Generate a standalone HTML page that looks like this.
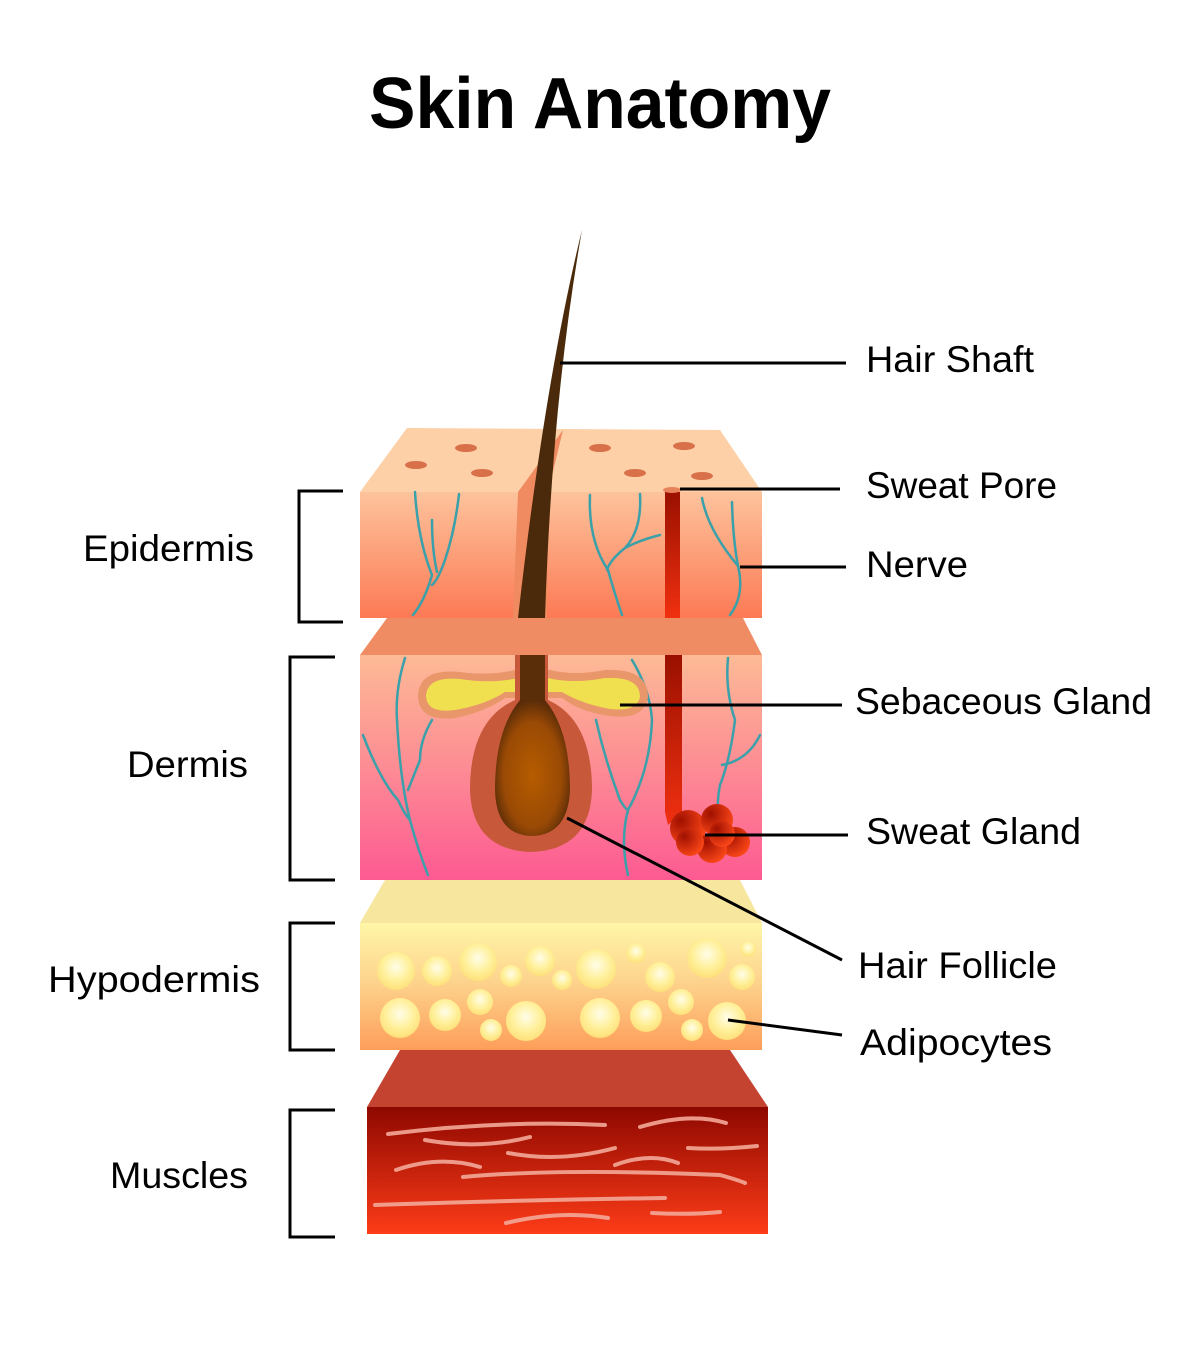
<!DOCTYPE html>
<html><head><meta charset="utf-8"><style>
html,body{margin:0;padding:0;background:#fff;}
svg{display:block;}
text{font-family:"Liberation Sans",sans-serif;fill:#000;}
</style></head><body>
<svg width="1200" height="1364" viewBox="0 0 1200 1364" xmlns="http://www.w3.org/2000/svg">
<defs>
<linearGradient id="epi" x1="0" y1="0" x2="0" y2="1"><stop offset="0" stop-color="#fdc39c"/><stop offset="1" stop-color="#fc7a55"/></linearGradient>
<linearGradient id="der" x1="0" y1="0" x2="0" y2="1"><stop offset="0" stop-color="#fdba96"/><stop offset="0.5" stop-color="#fd8c94"/><stop offset="1" stop-color="#fd5a92"/></linearGradient>
<linearGradient id="hyp" x1="0" y1="0" x2="0" y2="1"><stop offset="0" stop-color="#fff6a8"/><stop offset="0.5" stop-color="#fdd08a"/><stop offset="1" stop-color="#fd9e5a"/></linearGradient>
<linearGradient id="mus" x1="0" y1="0" x2="0" y2="1"><stop offset="0" stop-color="#8e0800"/><stop offset="1" stop-color="#fd3c18"/></linearGradient>
<linearGradient id="duct" x1="0" y1="0" x2="0" y2="1"><stop offset="0" stop-color="#9a1000"/><stop offset="1" stop-color="#f03010"/></linearGradient>
<radialGradient id="bulb" cx="0.5" cy="0.55" r="0.55"><stop offset="0" stop-color="#b65c00"/><stop offset="0.7" stop-color="#9a4a05"/><stop offset="1" stop-color="#5a2c08"/></radialGradient>
<radialGradient id="fat" cx="0.5" cy="0.4" r="0.6"><stop offset="0" stop-color="#fffde8"/><stop offset="0.6" stop-color="#fff09a"/><stop offset="1" stop-color="#fde07a"/></radialGradient>
<radialGradient id="sg" cx="0.3" cy="0.3" r="0.8"><stop offset="0" stop-color="#a01000"/><stop offset="1" stop-color="#ff4a1a"/></radialGradient>
</defs>

<text x="600" y="128" text-anchor="middle" font-size="72" font-weight="bold" textLength="462" lengthAdjust="spacingAndGlyphs">Skin Anatomy</text>

<polygon points="407,428 720,430 762,492 360,492" fill="#fdd0a8"/>
<rect x="360" y="492" width="402" height="126" fill="url(#epi)"/>
<g fill="#d8704a">
<ellipse cx="416" cy="465" rx="11" ry="4"/><ellipse cx="466" cy="448" rx="11" ry="4"/><ellipse cx="482" cy="473" rx="11" ry="4"/>
<ellipse cx="600" cy="448" rx="11" ry="4"/><ellipse cx="635" cy="473" rx="11" ry="4"/><ellipse cx="684" cy="446" rx="11" ry="4"/><ellipse cx="702" cy="476" rx="11" ry="4"/>
</g>
<polygon points="518,492 563,430 548,492 547,618 513,618" fill="#f08a60"/>
<rect x="665" y="492" width="15" height="126" fill="url(#duct)"/>
<ellipse cx="672" cy="490" rx="9" ry="3" fill="#e8825a"/>
<g fill="none" stroke="#3aa0aa" stroke-width="2.5" stroke-linecap="round">
<path d="M415,492 Q418,540 432,575 Q425,600 413,615"/>
<path d="M459,494 Q455,530 445,560 Q438,580 432,585"/>
<path d="M432,520 Q432,550 437,572"/>
<path d="M590,495 Q588,540 608,570 Q615,595 622,615"/>
<path d="M640,494 Q642,530 625,548 Q610,560 607,570"/>
<path d="M625,548 Q640,540 660,535"/>
<path d="M702,498 Q708,530 738,566 Q745,595 730,615"/>
<path d="M732,502 Q733,540 738,566"/>
</g>

<polygon points="387,618 743,618 762,655 360,655" fill="#f08c64"/>

<rect x="360" y="655" width="402" height="225" fill="url(#der)"/>
<g fill="none" stroke="#3aa0aa" stroke-width="2.5" stroke-linecap="round">
<path d="M405,658 Q395,690 397,720 Q400,780 410,820 Q418,850 428,875"/>
<path d="M363,735 Q380,780 398,800 Q405,815 410,820"/>
<path d="M432,720 Q420,740 420,760 Q412,780 408,790"/>
<path d="M632,660 Q650,690 652,720 Q650,770 628,810 Q620,840 628,875"/>
<path d="M596,720 Q605,760 620,800 Q626,810 628,810"/>
<path d="M728,658 Q725,690 735,720 Q730,760 720,785 Q717,800 718,815"/>
<path d="M760,735 Q748,760 722,765"/>
</g>
<path d="M418,695 Q420,668 460,672 Q490,676 515,670 L550,670 Q575,676 605,670 Q648,668 648,697 Q645,720 610,716 Q580,712 562,698 L505,698 Q485,712 455,718 Q418,722 418,695 Z" fill="#e8966a"/>
<path d="M426,695 Q428,676 460,679 Q492,684 518,678 L547,678 Q574,684 605,678 Q640,676 640,697 Q637,712 610,709 Q582,704 562,692 L505,692 Q485,705 455,710 Q426,714 426,695 Z" fill="#f0e050"/>
<path d="M515,655 L548,655 L548,700 Q592,720 592,790 Q590,850 531,852 Q472,850 470,790 Q470,720 515,700 Z" fill="#c8583a"/>
<rect x="520" y="655" width="25" height="50" fill="#5a2e08"/>
<path d="M520,700 L545,700 Q570,730 570,790 Q568,835 532,836 Q496,835 495,790 Q495,730 520,700 Z" fill="url(#bulb)"/>
<path d="M665,655 L682,655 L682,812 L668,825 L665,812 Z" fill="url(#duct)"/>
<g fill="url(#sg)">
<circle cx="688" cy="828" r="18"/><circle cx="717" cy="820" r="16"/><circle cx="735" cy="842" r="15"/>
<circle cx="712" cy="848" r="15"/><circle cx="690" cy="842" r="14"/><circle cx="722" cy="834" r="13"/>
</g>
<path d="M582,230 Q545,380 518,618 L545,618 Q552,400 582,230 Z" fill="#4a2a0a"/>

<polygon points="385,880 740,880 762,923 360,923" fill="#f6e69e"/>
<rect x="360" y="923" width="402" height="127" fill="url(#hyp)"/>
<g fill="url(#fat)">
<circle cx="396" cy="971" r="19"/><circle cx="437" cy="971" r="15"/><circle cx="478" cy="962" r="19"/><circle cx="511" cy="976" r="11"/>
<circle cx="540" cy="961" r="15"/><circle cx="562" cy="980" r="10"/><circle cx="596" cy="969" r="20"/><circle cx="636" cy="953" r="10"/>
<circle cx="660" cy="977" r="15"/><circle cx="707" cy="958" r="20"/><circle cx="742" cy="977" r="13"/><circle cx="748" cy="949" r="8"/>
<circle cx="400" cy="1018" r="20"/><circle cx="445" cy="1015" r="16"/><circle cx="480" cy="1002" r="13"/><circle cx="491" cy="1030" r="11"/>
<circle cx="526" cy="1021" r="20"/><circle cx="600" cy="1018" r="20"/><circle cx="646" cy="1016" r="16"/><circle cx="681" cy="1002" r="13"/>
<circle cx="692" cy="1030" r="11"/><circle cx="727" cy="1021" r="19"/>
</g>

<polygon points="400,1050 730,1050 768,1107 367,1107" fill="#c44230"/>
<rect x="367" y="1107" width="401" height="127" fill="url(#mus)"/>
<g fill="none" stroke="#f4a898" stroke-width="4" stroke-linecap="round" opacity="0.9">
<path d="M388,1134 Q500,1120 605,1125"/>
<path d="M640,1127 Q690,1112 726,1123"/>
<path d="M425,1140 Q480,1150 530,1137"/>
<path d="M508,1153 Q560,1163 615,1148"/>
<path d="M688,1148 Q720,1150 757,1146"/>
<path d="M396,1170 Q440,1155 480,1167"/>
<path d="M615,1165 Q650,1152 678,1163"/>
<path d="M463,1177 Q560,1168 720,1175 Q738,1180 745,1183"/>
<path d="M375,1205 Q520,1200 665,1198"/>
<path d="M506,1223 Q560,1210 608,1218"/>
<path d="M652,1213 Q690,1215 720,1212"/>
</g>

<g stroke="#000" stroke-width="3" fill="none">
<line x1="560" y1="363" x2="846" y2="363"/>
<line x1="680" y1="489" x2="840" y2="489"/>
<line x1="740" y1="567" x2="846" y2="567"/>
<line x1="620" y1="705" x2="842" y2="705"/>
<line x1="705" y1="835" x2="848" y2="835"/>
<line x1="567" y1="818" x2="842" y2="960"/>
<line x1="728" y1="1020" x2="842" y2="1035"/>
</g>
<g stroke="#000" stroke-width="3" fill="none">
<polyline points="343,491 299,491 299,622 343,622"/>
<polyline points="335,657 290,657 290,880 335,880"/>
<polyline points="335,923 290,923 290,1050 335,1050"/>
<polyline points="335,1110 290,1110 290,1237 335,1237"/>
</g>

<g font-size="37">
<text x="866" y="372" textLength="168" lengthAdjust="spacingAndGlyphs">Hair Shaft</text>
<text x="866" y="498" textLength="191" lengthAdjust="spacingAndGlyphs">Sweat Pore</text>
<text x="866" y="577" textLength="102" lengthAdjust="spacingAndGlyphs">Nerve</text>
<text x="855" y="714" textLength="297" lengthAdjust="spacingAndGlyphs">Sebaceous Gland</text>
<text x="866" y="844" textLength="215" lengthAdjust="spacingAndGlyphs">Sweat Gland</text>
<text x="858" y="978" textLength="199" lengthAdjust="spacingAndGlyphs">Hair Follicle</text>
<text x="860" y="1055" textLength="192" lengthAdjust="spacingAndGlyphs">Adipocytes</text>
<text x="83" y="561" textLength="171" lengthAdjust="spacingAndGlyphs">Epidermis</text>
<text x="127" y="777" textLength="121" lengthAdjust="spacingAndGlyphs">Dermis</text>
<text x="48" y="992" textLength="212" lengthAdjust="spacingAndGlyphs">Hypodermis</text>
<text x="110" y="1188" textLength="138" lengthAdjust="spacingAndGlyphs">Muscles</text>
</g>
</svg>
</body></html>
